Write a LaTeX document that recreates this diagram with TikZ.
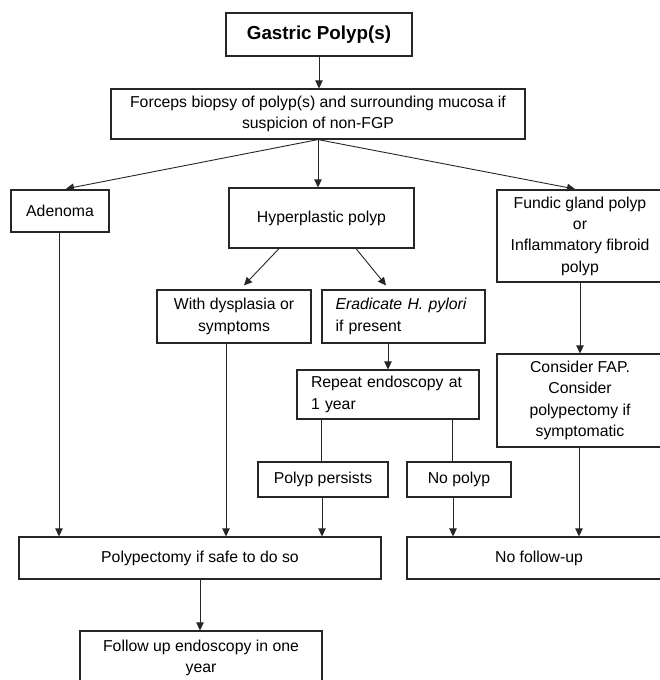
\documentclass[tikz,border=0pt]{standalone}
\usepackage{fontspec}
\setmainfont{Liberation Sans}
\usetikzlibrary{arrows.meta,calc}
\begin{document}
\begin{tikzpicture}[x=1pt,y=-1pt,
  box/.style={draw=black!85, line width=1.2pt, inner sep=0pt, align=center,
    font=\fontsize{15.8}{21.3}\selectfont},
  leftbox/.style={box, align=left, inner xsep=14pt},
  arr/.style={draw=black!85, line width=0.9pt, -{Triangle[length=8pt,width=7.5pt]}},
  ln/.style={draw=black!85, line width=0.9pt}]
\fill[white] (0,0) rectangle (660,680);
\useasboundingbox (0,0) rectangle (660,680);
\clip (0,0) rectangle (660,680);

% nodes
\node[box, minimum width=186pt, minimum height=43pt, font=\fontsize{18.8}{22}\selectfont\bfseries] (gp) at (319,34.5) {Gastric Polyp(s)};
\node[box, minimum width=414pt, minimum height=50pt] (fb) at (318,114) {Forceps biopsy of polyp(s) and surrounding mucosa if\\suspicion of non-FGP};
\node[box, minimum width=98pt, minimum height=42pt] (ad) at (60,211) {Adenoma};
\node[box, minimum width=185pt, minimum height=60pt] (hp) at (321.5,218) {Hyperplastic polyp};
\node[box, minimum width=166pt, minimum height=92pt] (fg) at (580,236) {Fundic gland polyp\\or\\Inflammatory fibroid\\polyp};
\node[box, minimum width=154pt, minimum height=53pt] (dy) at (234,316.5) {With dysplasia or\\symptoms};
\node[leftbox, text width=136pt, minimum height=53pt, inner xsep=13.5pt] (er) at (403.5,316.5) {\textit{Eradicate H. pylori}\\if present};
\node[leftbox, text width=154pt, minimum height=49pt] (rp) at (388,394.5) {Repeat endoscopy at\\1 year};
\node[box, minimum width=166pt, minimum height=93pt] (cf) at (580,400.5) {Consider FAP.\\Consider\\polypectomy if\\symptomatic};
\node[box, minimum width=130pt, minimum height=35pt] (pp) at (323,479.5) {Polyp persists};
\node[box, minimum width=104pt, minimum height=35pt] (np) at (459,479.5) {No polyp};
\node[box, minimum width=362pt, minimum height=42pt] (pe) at (200,558) {Polypectomy if safe to do so};
\node[box, minimum width=264pt, minimum height=42pt] (nf) at (539,558) {No follow-up};
\node[box, minimum width=242pt, minimum height=54pt] (fu) at (201,658) {Follow up endoscopy in one\\year};

% connectors
\draw[arr] (gp.south) -- (gp.south |- fb.north);
\draw[arr, shorten >=3pt] (fb.south) -- ($(ad.north)+(3,0)$);
\draw[arr] (fb.south) -- (fb.south |- hp.north);
\draw[arr, shorten >=2pt] (fb.south) -- ($(fg.north)+(-3,0)$);

\draw[arr] ($(hp.south)+(-42.5,0)$) -- ($(dy.north)+(10,-4)$);
\draw[arr] ($(hp.south)+(34.5,0)$) -- ($(er.north)+(-17.5,-4)$);

\draw[arr] (er.south -| rp.north) -- (rp.north);
\draw[arr] (fg.south) -- (cf.north);

\coordinate (r1) at ($(rp.south west)+(25,0)$);
\coordinate (r2) at ($(rp.south west)+(156,0)$);
\draw[ln] (r1) -- (r1 |- pp.north);
\draw[ln] (r2) -- (r2 |- np.north);

\coordinate (a1) at ($(ad.south)+(-1,0)$);
\coordinate (d1) at ($(dy.south)+(-8,0)$);
\coordinate (p1) at ($(pp.south)+(-1,0)$);
\coordinate (n1) at ($(np.south)+(-6,0)$);
\coordinate (c1) at ($(cf.south)+(-1,0)$);
\draw[arr] (a1) -- (a1 |- pe.north);
\draw[arr] (d1) -- (d1 |- pe.north);
\draw[arr] (p1) -- (p1 |- pe.north);
\draw[arr] (n1) -- (n1 |- nf.north);
\draw[arr] (c1) -- (c1 |- nf.north);
\draw[arr] (pe.south) -- (pe.south |- fu.north);
\end{tikzpicture}
\end{document}
